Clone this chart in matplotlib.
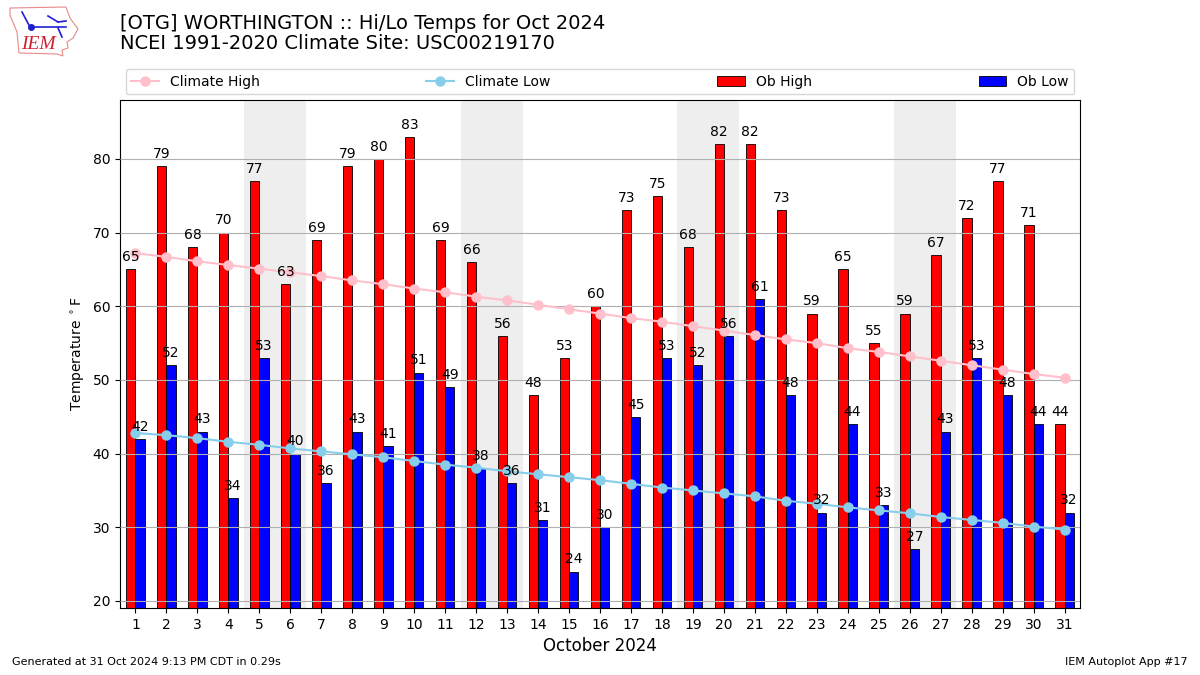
import matplotlib
matplotlib.use("Agg")
import matplotlib.pyplot as plt
from matplotlib.patches import Polygon
from matplotlib.lines import Line2D
import numpy as np

days = list(range(1, 32))
ob_high = [65,79,68,70,77,63,69,79,80,83,69,66,56,48,53,60,73,75,68,82,82,73,59,65,55,59,67,72,77,71,44]
ob_low = [42,52,43,34,53,40,36,43,41,51,49,38,36,31,24,30,45,53,52,56,61,48,32,44,33,27,43,53,48,44,32]
clim_high = [67.2,66.7,66.1,65.6,65.1,64.6,64.1,63.5,63.0,62.4,61.9,61.3,60.8,60.2,59.6,59.0,58.4,57.9,57.3,56.7,56.1,55.5,55.0,54.3,53.8,53.2,52.6,52.0,51.4,50.8,50.3]
clim_low = [42.8,42.5,42.1,41.6,41.2,40.7,40.3,39.9,39.5,39.0,38.5,38.1,37.6,37.2,36.8,36.4,35.9,35.4,35.0,34.6,34.2,33.6,33.2,32.7,32.3,31.9,31.4,31.0,30.6,30.1,29.7]
weekends = [5, 6, 12, 13, 19, 20, 26, 27]
yticks = [20, 30, 40, 50, 60, 70, 80]

fig = plt.figure(figsize=(12, 6.75), dpi=100)
ax = fig.add_axes([0.1, 0.0993, 0.8, 0.7526])
for d in weekends:
    ax.axvspan(d - 0.5, d + 0.5, color="#eeeeee", zorder=0, lw=0)
x = np.array(days)
ax.bar(x - 0.15, ob_high, width=0.3, color="red", edgecolor="black", linewidth=0.6, label="Ob High", zorder=2)
ax.bar(x + 0.15, ob_low, width=0.3, color="blue", edgecolor="black", linewidth=0.6, label="Ob Low", zorder=2)
ax.plot(x, clim_high, color="pink", marker="o", ms=6.5, label="Climate High", zorder=3)
ax.plot(x, clim_low, color="skyblue", marker="o", ms=6.5, label="Climate Low", zorder=3)
for d, v in zip(days, ob_high):
    ax.text(d - 0.15, v + 0.7, str(v), ha="center", va="bottom", fontsize=10, zorder=4)
for d, v in zip(days, ob_low):
    ax.text(d + 0.15, v + 0.7, str(v), ha="center", va="bottom", fontsize=10, zorder=4)
ax.set_xlim(0.5, 31.5)
ax.set_ylim(19.05, 88)
ax.set_xticks(days)
ax.set_yticks(yticks)
ax.grid(axis="y", color="#b0b0b0", lw=0.8, zorder=1)
ax.set_axisbelow(False)
ax.tick_params(labelsize=10)
ax.set_xlabel("October 2024", fontsize=12)
ax.set_ylabel(r"Temperature $^\circ$F", fontsize=10)

h, l = ax.get_legend_handles_labels()
order = [l.index(n) for n in ["Climate High", "Climate Low", "Ob High", "Ob Low"]]
ax.legend([h[i] for i in order], [l[i] for i in order], ncol=4, mode="expand",
          loc="lower left", bbox_to_anchor=(0, 1.0, 1, 0.05), fontsize=10, borderaxespad=0.4)

fig.text(0.1, 0.9215, "[OTG] WORTHINGTON :: Hi/Lo Temps for Oct 2024\nNCEI 1991-2020 Climate Site: USC00219170",
         fontsize=14, va="bottom", ha="left", linespacing=1.05)
fig.text(0.01, 0.0125, "Generated at 31 Oct 2024 9:13 PM CDT in 0.29s", fontsize=8, va="bottom")
fig.text(0.99, 0.0125, "IEM Autoplot App #17", fontsize=8, va="bottom", ha="right")

# logo: outline, wind-barb glyph and lettering
px = lambda a, b: (a / 1200, 1 - b / 675)
outline = [(10,8),(66,7),(70,18),(78,29),(73,38),(67,42),(68,48),(62,50),(63,56),(57,54),(19,53),(17,32),(10,15)]
fig.add_artist(Polygon([px(*p) for p in outline], closed=True, transform=fig.transFigure,
                       fill=False, ec="#e88a8a", lw=0.8))
for seg in [[(31,27),(66,27)], [(48,16),(58,22)], [(58,22),(66,21)], [(58,28),(62,37)], [(22,12),(30,27)]]:
    xs, ys = zip(*[px(*p) for p in seg])
    fig.add_artist(Line2D(xs, ys, color="#2020d0", lw=1.2))
fig.add_artist(Line2D(*zip(px(31,27)), color="#2020d0", marker="o", ms=4))
fig.text(0.0175, 0.9345, "IEM", color="#d02030", fontsize=14, family="Liberation Serif", style="italic", va="center")
fig.savefig("out.png", dpi=100)
